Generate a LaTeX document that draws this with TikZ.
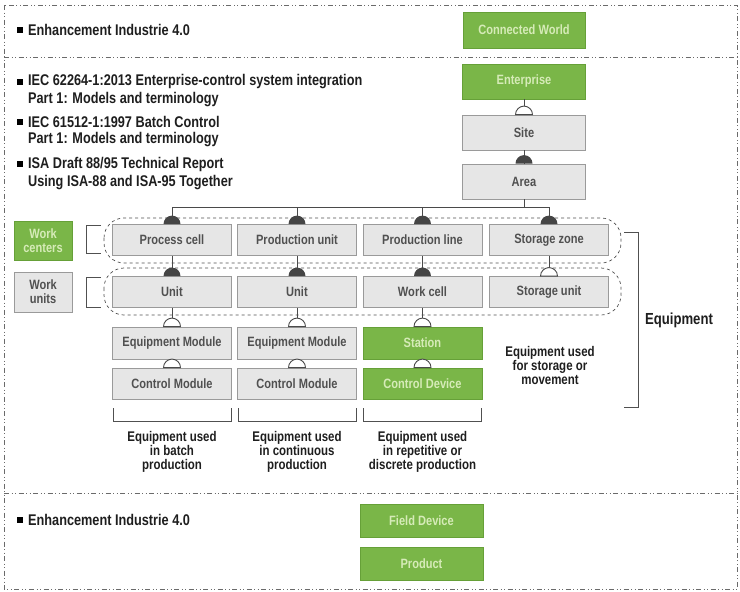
\documentclass[tikz,border=0pt]{standalone}
\usepackage{fontspec}
\setmainfont{Liberation Sans}[FakeStretch=0.82]
\definecolor{boxfill}{HTML}{E6E6E6}
\definecolor{boxborder}{HTML}{9A9A9A}
\definecolor{boxtext}{HTML}{505050}
\definecolor{greenfill}{HTML}{7AB648}
\definecolor{greenborder}{HTML}{66A038}
\definecolor{greentext}{HTML}{D6EBB8}
\definecolor{semidark}{HTML}{454545}
\definecolor{linegray}{HTML}{4A4A4A}
\definecolor{panelgray}{HTML}{6A6A6A}
\definecolor{labeltext}{HTML}{1E1E1E}
\tikzset{
  box/.style={draw=boxborder, fill=boxfill, line width=0.8pt, minimum width=119pt, minimum height=31pt, text=boxtext, font=\fontsize{13.5}{15}\selectfont\bfseries, inner sep=0pt},
  gbox/.style={box, draw=greenborder, fill=greenfill, text=greentext},
  conn/.style={draw=linegray, line width=0.9pt},
  semifull/.style={fill=semidark},
  semiopen/.style={fill=white, draw=linegray, line width=0.9pt},
  envelope/.style={draw=boxtext, dashed, line width=0.7pt, rounded corners=20pt},
  panel/.style={draw=panelgray, line width=0.8pt, dash pattern=on 5pt off 2.5pt on 1pt off 2.5pt on 1pt off 2.5pt},
  bul/.style={fill=black, minimum size=6pt, inner sep=0pt},
  bultext/.style={anchor=west, inner sep=0pt, text=labeltext, font=\fontsize{15.5}{17}\selectfont\bfseries},
  lab/.style={align=center, text=labeltext, font=\fontsize{14}{14}\selectfont\bfseries, inner sep=0pt},
  brk/.style={draw=boxtext, line width=0.8pt},
}
\newcommand\semicap[2]{\path[#2] ([xshift=-8.5pt]#1) arc[start angle=180, end angle=0, radius=8.5pt] -- cycle;}
\begin{document}
\begin{tikzpicture}[x=1pt, y=-1pt]
\useasboundingbox (0,0) rectangle (740,592);
% panels
\draw[panel] (4,5) rectangle (737,589);
\draw[panel] (4,57) -- (737,57);
\draw[panel] (4,493) -- (737,493);
% envelopes
\draw[envelope] (104,218) rectangle (621,263);
\draw[envelope] (104,268) rectangle (621,315);
% top panel
\node[bul] (b1) at (20,30) {};
\node[bultext] (t1) at (28,30) {Enhancement Industrie 4.0};
\node[gbox, minimum width=122pt, minimum height=36pt] (cw) at (524,30) {Connected World};
% middle panel text
\node[bul] (b2) at (20,82) {};
\node[bultext] (t2a) at (28,82) {IEC 62264-1:2013 Enterprise-control system integration};
\node[bultext] (t2b) at (28,100) {Part 1: Models and terminology};
\node[bul] (b3) at (20,122) {};
\node[bultext] (t3a) at (28,122) {IEC 61512-1:1997 Batch Control};
\node[bultext] (t3b) at (28,140) {Part 1: Models and terminology};
\node[bul] (b4) at (20,164) {};
\node[bultext] (t4a) at (28,164) {ISA Draft 88/95 Technical Report};
\node[bultext] (t4b) at (28,183) {Using ISA-88 and ISA-95 Together};
% hierarchy
\node[gbox, minimum width=123pt, minimum height=35pt] (ent) at (524,81.5) {Enterprise};
\node[box, minimum width=123pt, minimum height=35pt] (site) at (524,132.5) {Site};
\node[box, minimum width=123pt, minimum height=35pt] (area) at (524,181.5) {Area};
% row 1
\node[box] (pc) at (172,240) {Process cell};
\node[box] (pu) at (297,240) {Production unit};
\node[box] (pl) at (422.5,240) {Production line};
\node[box] (sz) at (549,240) {Storage zone};
% row 2
\node[box] (u1) at (172,292) {Unit};
\node[box] (u2) at (297,292) {Unit};
\node[box] (wcell) at (422.5,292) {Work cell};
\node[box] (su) at (549,292) {Storage unit};
% row 3
\node[box, minimum height=32pt] (em1) at (172,343) {Equipment Module};
\node[box, minimum height=32pt] (em2) at (297,343) {Equipment Module};
\node[gbox, minimum height=32pt] (st) at (422.5,343) {Station};
% row 4
\node[box] (cm1) at (172,383.5) {Control Module};
\node[box] (cm2) at (297,383.5) {Control Module};
\node[gbox] (cd) at (422.5,383.5) {Control Device};
% left labels
\node[gbox, minimum width=58pt, minimum height=39pt, align=center, font=\fontsize{13.5}{14}\selectfont\bfseries] (wc) at (43,240.5) {Work\\centers};
\node[box, minimum width=58pt, minimum height=40pt, align=center, font=\fontsize{13.5}{14}\selectfont\bfseries] (wu) at (43,292) {Work\\units};
% connectors
\coordinate (bus) at (524,207);
\draw[conn] (ent.south) -- (site.north);
\draw[conn] (site.south) -- (area.north);
\draw[conn] (area.south) -- (bus);
\draw[conn] (pc.north |- bus) -- (sz.north |- bus);
\foreach \n in {pc,pu,pl,sz} {\draw[conn] (\n.north |- bus) -- (\n.north);}
\draw[conn] (pc.south) -- (u1.north);
\draw[conn] (pu.south) -- (u2.north);
\draw[conn] (pl.south) -- (wcell.north);
\draw[conn] (sz.south) -- (su.north);
\draw[conn] (u1.south) -- (em1.north);
\draw[conn] (u2.south) -- (em2.north);
\draw[conn] (wcell.south) -- (st.north);
\draw[conn] (em1.south) -- (cm1.north);
\draw[conn] (em2.south) -- (cm2.north);
\draw[conn] (st.south) -- (cd.north);
% semicircle caps
\semicap{site.north}{semiopen}
\semicap{area.north}{semifull}
\foreach \n in {pc,pu,pl,sz,u1,u2,wcell} {\semicap{\n.north}{semifull}}
\foreach \n in {su,em1,em2,st,cm1,cm2,cd} {\semicap{\n.north}{semiopen}}
% left brackets
\draw[brk] (101,225) -- (86,225) -- (86,253) -- (101,253);
\draw[brk] (101,277) -- (86,277) -- (86,307) -- (101,307);
% bottom brackets
\foreach \n in {cm1,cm2,cd} {\draw[brk] ([xshift=1pt]\n.west |- 0,408) -- ([xshift=1pt]\n.west |- 0,421) -- ([xshift=-1pt]\n.east |- 0,421) -- ([xshift=-1pt]\n.east |- 0,408);}
% right bracket
\draw[brk] (624,232) -- (638,232) -- (638,407) -- (624,407);
\node[lab, font=\fontsize{16}{16}\selectfont\bfseries] (eq) at (679,320) {Equipment};
\node[lab] (eqs) at (550,365) {Equipment used\\for storage or\\movement};
\node[lab] (eqb) at (172,452) {Equipment used\\in batch\\production};
\node[lab] (eqc) at (297,452) {Equipment used\\in continuous\\production};
\node[lab] (eqr) at (422.5,452) {Equipment used\\in repetitive or\\discrete production};
% bottom panel
\node[bul] (b5) at (20,520) {};
\node[bultext] (t5) at (28,520) {Enhancement Industrie 4.0};
\node[gbox, minimum width=123pt, minimum height=33pt] (fd) at (421.5,521) {Field Device};
\node[gbox, minimum width=123pt, minimum height=33pt] (prod) at (421.5,564) {Product};
\end{tikzpicture}
\end{document}
